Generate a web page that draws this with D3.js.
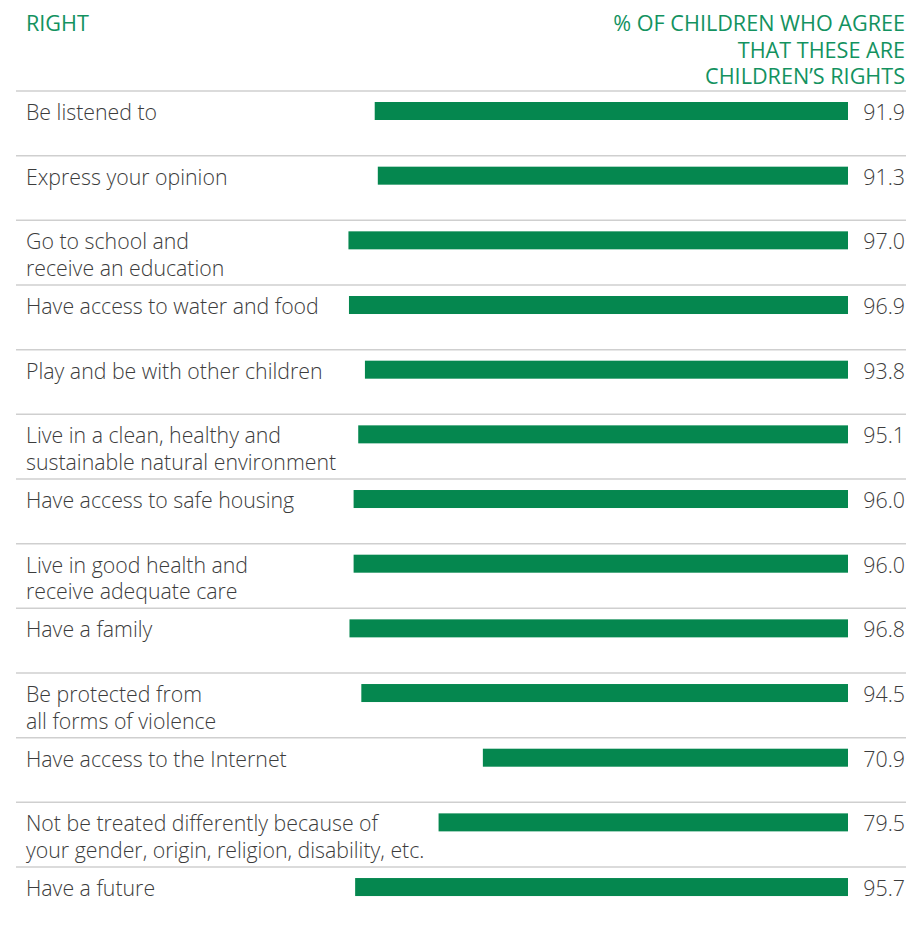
<!DOCTYPE html>
<html><head><meta charset="utf-8">
<script src="https://cdn.jsdelivr.net/npm/d3@7"></script>
<style>body{margin:0;background:#fff;}svg{display:block;font-family:"Open Sans",sans-serif;}</style>
</head><body>
<svg id="chart" width="910" height="926"></svg>
<script>
const categories = [
  ["Be listened to"],
  ["Express your opinion"],
  ["Go to school and", "receive an education"],
  ["Have access to water and food"],
  ["Play and be with other children"],
  ["Live in a clean, healthy and", "sustainable natural environment"],
  ["Have access to safe housing"],
  ["Live in good health and", "receive adequate care"],
  ["Have a family"],
  ["Be protected from", "all forms of violence"],
  ["Have access to the Internet"],
  ["Not be treated differently because of", "your gender, origin, religion, disability, etc."],
  ["Have a future"]
];
const values = [91.9, 91.3, 97.0, 96.9, 93.8, 95.1, 96.0, 96.0, 96.8, 94.5, 70.9, 79.5, 95.7];
const headerLeft = ["RIGHT"];
const headerRight = ["% OF CHILDREN WHO AGREE", "THAT THESE ARE", "CHILDREN\u2019S RIGHTS"];

const svg = d3.select("#chart");
const green = "#05874f", headGreen = "#13925f", textCol = "#3c3c3c", lineCol = "#cfcfcf";
const top0 = 91, rowH = 64.67;
const x = d3.scaleLinear().domain([0, 100]).range([848, 333]);
const y = d3.scaleBand().domain(d3.range(values.length)).range([top0, top0 + rowH * values.length]);

svg.append("text").attr("x", 26).attr("y", 31).attr("fill", headGreen)
  .attr("font-size", 21.6).attr("font-weight", 400).text(headerLeft[0]);
svg.append("text").attr("text-anchor", "end").attr("fill", headGreen).attr("font-size", 21.6)
  .selectAll("tspan").data(headerRight).join("tspan")
  .attr("x", 905).attr("y", (d, i) => 31 + i * 26.5).text(d => d);

const rows = svg.selectAll("g.row").data(values).join("g").attr("class", "row")
  .attr("transform", (d, i) => `translate(0,${y(i)})`);
rows.append("line").attr("x1", 16).attr("x2", 906).attr("y1", 0).attr("y2", 0)
  .attr("stroke", lineCol).attr("stroke-width", 1.5);
rows.append("rect").attr("x", d => x(d)).attr("width", d => x(0) - x(d))
  .attr("y", 11).attr("height", 18).attr("fill", green);
rows.append("text").attr("x", 905).attr("y", 29).attr("text-anchor", "end")
  .attr("fill", textCol).attr("font-size", 21.4).attr("font-weight", 300)
  .text(d => d.toFixed(1));
rows.append("text").attr("fill", textCol).attr("font-size", 21.3).attr("font-weight", 300)
  .selectAll("tspan").data((d, i) => categories[i]).join("tspan")
  .attr("x", 26).attr("y", (d, i) => 29 + i * 26.5).text(d => d);
</script>
</body></html>
